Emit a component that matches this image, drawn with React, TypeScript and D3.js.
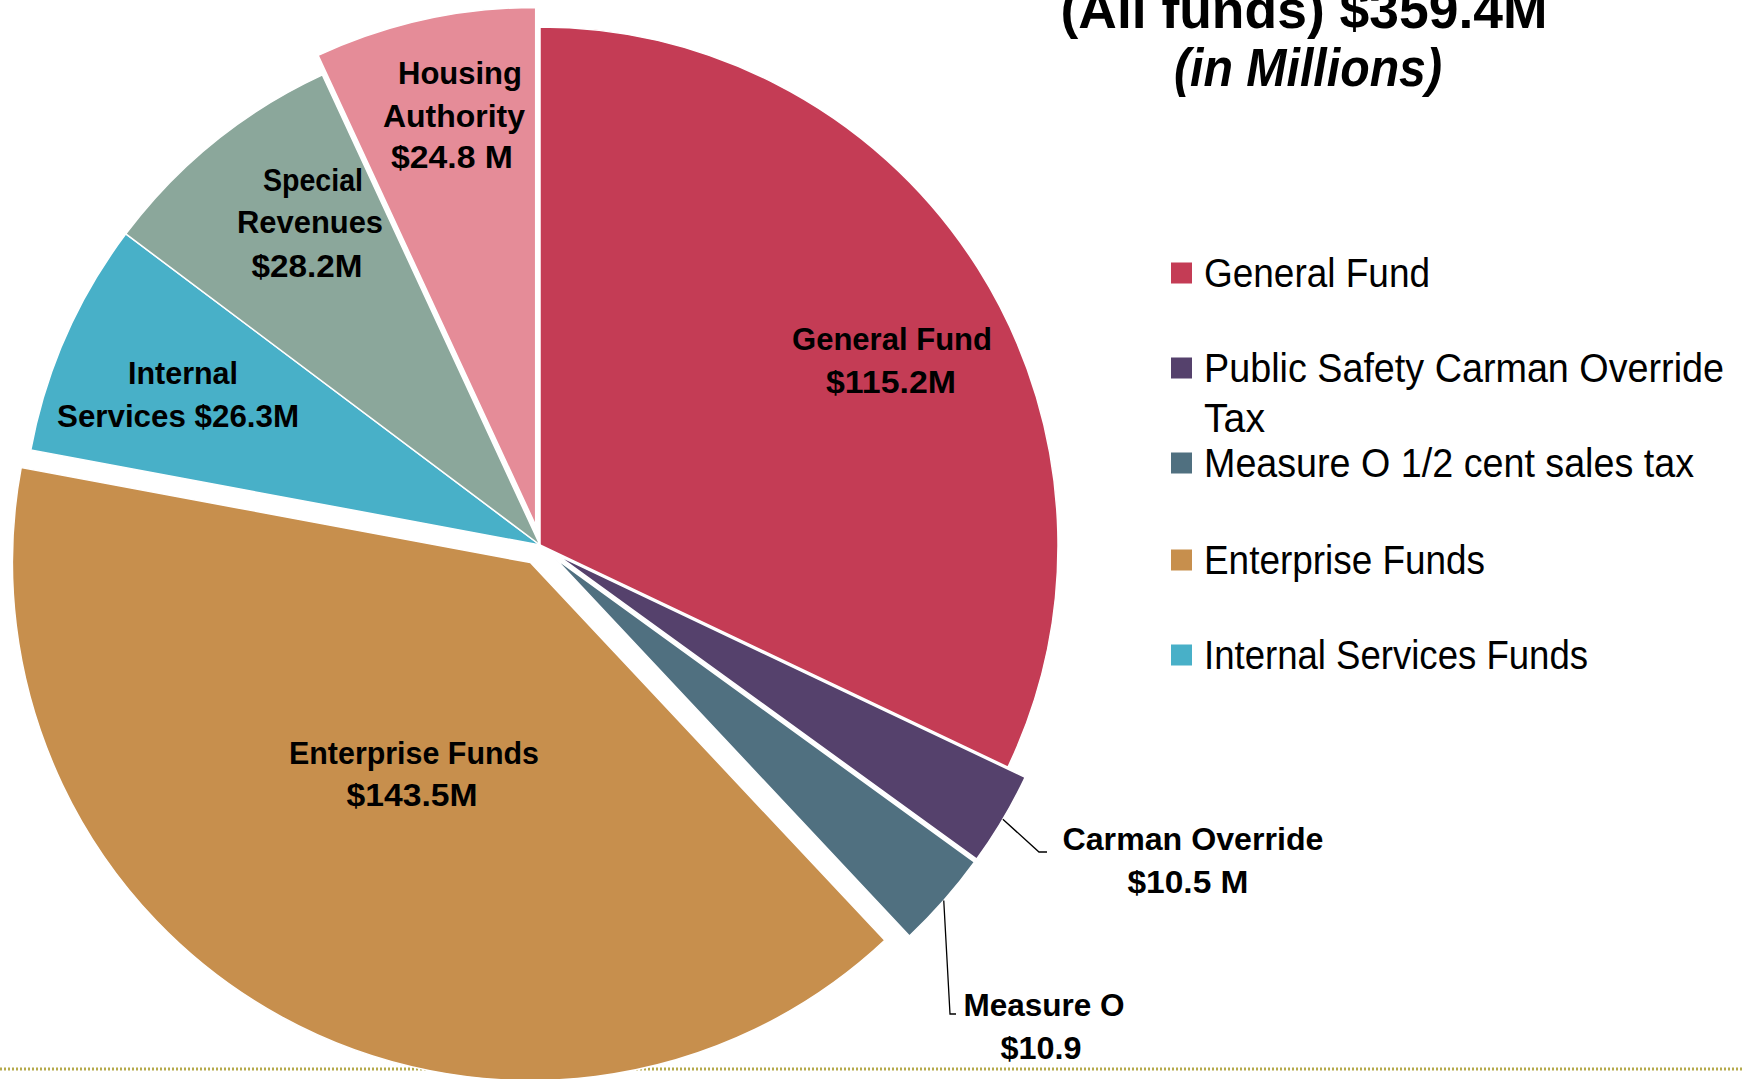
import React from "react";
import * as d3 from "d3";

// ---------- data ----------
const categories = [
  "General Fund",
  "Public Safety Carman Override Tax",
  "Measure O 1/2 cent sales tax",
  "Enterprise Funds",
  "Internal Services Funds",
  "Special Revenues",
  "Housing Authority",
];
const values = [115.2, 10.5, 10.9, 143.5, 26.3, 28.2, 24.8];
const colors = ["#C43C55", "#55416C", "#507080", "#C78F4D", "#48B0C8", "#8BA79B", "#E58C98"];
const explodedSlices = [
  "Public Safety Carman Override Tax",
  "Measure O 1/2 cent sales tax",
  "Enterprise Funds",
  "Housing Authority",
];
const legendCategories = categories.slice(0, 5);
const legendLabels = [
  ["General Fund"],
  ["Public Safety Carman Override", "Tax"],
  ["Measure O  1/2 cent sales tax"],
  ["Enterprise Funds"],
  ["Internal Services Funds"],
];
const sliceLabels = [
  ["General Fund", "$115.2M"],
  ["Carman Override", "$10.5 M"],
  ["Measure O", "$10.9"],
  ["Enterprise Funds", "$143.5M"],
  ["Internal", "Services $26.3M"],
  ["Special", "Revenues", "$28.2M"],
  ["Housing", "Authority", "$24.8 M"],
];
const titleLines = ["(All funds) $359.4M", "(in Millions)"];

// ---------- layout ----------
const W = 1742;
const H = 1079;
const CX = 540;
const CY = 545;
const R = 518;
const EXPLODE = 20;
const FONT = "'Liberation Sans', Arial, Helvetica, sans-serif";

// per slice label: x centers, baselines, widths
const labelLayout = [
  { x: [892, 891], y: [350, 393], w: [200, 130] },
  { x: [1193, 1188], y: [850, 893], w: [261, 121] },
  { x: [1044, 1041], y: [1016, 1059], w: [161, 81] },
  { x: [414, 412], y: [764, 806], w: [250, 131] },
  { x: [183, 178], y: [384, 427], w: [110, 242] },
  { x: [313, 310, 307], y: [191, 233, 277], w: [100, 146, 111] },
  { x: [460, 454, 452], y: [84, 127, 168], w: [124, 142, 122] },
];
// leader lines (elbow points) for the small slices
const leaders: Record<string, [number, number][]> = {
  "Public Safety Carman Override Tax": [
    [1039, 852],
    [1047, 852],
  ],
  "Measure O 1/2 cent sales tax": [
    [950, 1014],
    [956, 1014],
  ],
};
const legendLayout = {
  boxX: 1171,
  box: 21,
  textX: 1204,
  centers: [273, 368, 463, 560, 655],
  lineGap: 50,
  widths: [[226], [520, 61], [490], [281], [384]],
};

export default function App() {
  const pie = d3
    .pie<number>()
    .sort(null)
    .value((d) => d)
    .startAngle(0)
    .endAngle(2 * Math.PI);
  const arcs = pie(values);
  const arc = d3.arc<d3.PieArcDatum<number>>().innerRadius(0).outerRadius(R);

  const offsetOf = (a: d3.PieArcDatum<number>, i: number) => {
    if (!explodedSlices.includes(categories[i])) return [0, 0];
    const m = (a.startAngle + a.endAngle) / 2;
    return [Math.sin(m) * EXPLODE, -Math.cos(m) * EXPLODE];
  };

  return (
    <svg
      width={W}
      height={H}
      viewBox={`0 0 ${W} ${H}`}
      style={{ position: "absolute", left: 0, top: 0, background: "#fff" }}
      fontFamily={FONT}
    >
      <rect x={0} y={0} width={W} height={H} fill="#fff" />
      {/* dotted bottom rule */}
      <line x1={0} x2={W} y1={1069} y2={1069} stroke="#B5AA4C" strokeWidth={3} strokeDasharray="2,2" />

      <g transform={`translate(${CX},${CY})`}>
        {arcs.map((a, i) => {
          const [dx, dy] = offsetOf(a, i);
          return (
            <path
              key={categories[i]}
              d={arc(a) || ""}
              transform={`translate(${dx},${dy})`}
              fill={colors[i]}
              stroke="#fff"
              strokeWidth={1.5}
            />
          );
        })}
      </g>

      {/* leader lines */}
      {arcs.map((a, i) => {
        const pts = leaders[categories[i]];
        if (!pts) return null;
        const [dx, dy] = offsetOf(a, i);
        const m = (a.startAngle + a.endAngle) / 2;
        const sx = CX + dx + Math.sin(m) * R;
        const sy = CY + dy - Math.cos(m) * R;
        const line = d3.line()([[sx, sy], ...pts]);
        return <path key={"l" + i} d={line || ""} fill="none" stroke="#000" strokeWidth={1.3} />;
      })}

      {/* slice labels */}
      {sliceLabels.map((lines, i) =>
        lines.map((t, j) => (
          <text
            key={`s${i}-${j}`}
            x={labelLayout[i].x[j]}
            y={labelLayout[i].y[j]}
            textAnchor="middle"
            fontWeight="bold"
            fontSize={32}
            textLength={labelLayout[i].w[j]}
            lengthAdjust="spacingAndGlyphs"
            fill="#000"
          >
            {t}
          </text>
        ))
      )}

      {/* title */}
      <text
        x={1304}
        y={28}
        textAnchor="middle"
        fontWeight="bold"
        fontSize={54}
        textLength={487}
        lengthAdjust="spacingAndGlyphs"
      >
        {titleLines[0]}
      </text>
      <text
        x={1308}
        y={86}
        textAnchor="middle"
        fontWeight="bold"
        fontStyle="italic"
        fontSize={54}
        textLength={268}
        lengthAdjust="spacingAndGlyphs"
      >
        {titleLines[1]}
      </text>

      {/* legend */}
      {legendCategories.map((c, i) => {
        const cy = legendLayout.centers[i];
        const ci = categories.indexOf(c);
        return (
          <g key={"lg" + c}>
            <rect
              x={legendLayout.boxX}
              y={cy - legendLayout.box / 2}
              width={legendLayout.box}
              height={legendLayout.box}
              fill={colors[ci]}
            />
            {legendLabels[i].map((t, j) => (
              <text
                key={t}
                x={legendLayout.textX}
                y={cy + j * legendLayout.lineGap + 14}
                fontSize={40}
                textLength={legendLayout.widths[i][j]}
                lengthAdjust="spacingAndGlyphs"
                fill="#000"
              >
                {t}
              </text>
            ))}
          </g>
        );
      })}
    </svg>
  );
}
